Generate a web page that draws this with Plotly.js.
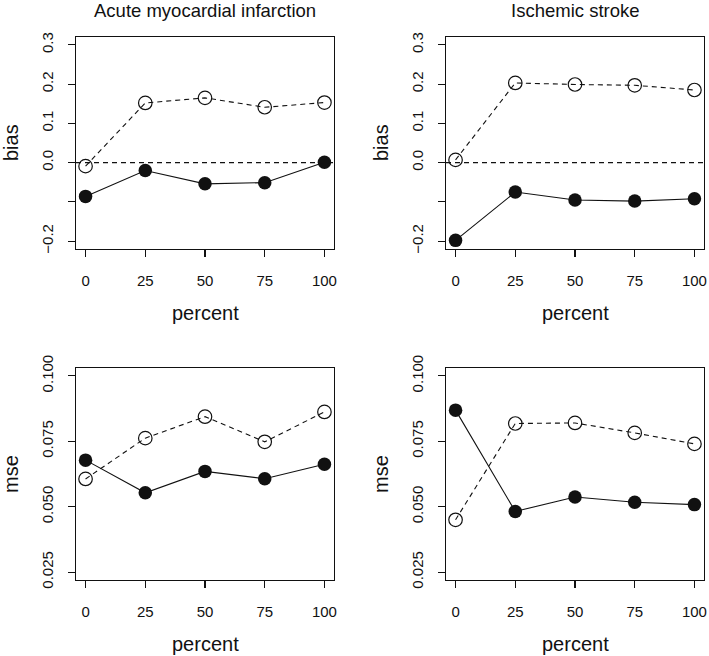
<!DOCTYPE html>
<html>
<head>
<meta charset="utf-8">
<script src="https://cdn.plot.ly/plotly-3.0.1.min.js"></script>
<style>
  html, body { margin: 0; padding: 0; background: #fff; }
  #plot { width: 709px; height: 656px; }
</style>
</head>
<body>
<div id="plot"></div>
<script>
// --- Data ---
const percent = [0, 25, 50, 75, 100];

// Acute myocardial infarction
const amiBiasOpen   = [-0.009, 0.152, 0.165, 0.141, 0.153];
const amiBiasFilled = [-0.086, -0.020, -0.054, -0.051, 0.001];
const amiMseOpen    = [0.0606, 0.0762, 0.0844, 0.0748, 0.0862];
const amiMseFilled  = [0.0678, 0.0553, 0.0635, 0.0607, 0.0662];

// Ischemic stroke
const isBiasOpen    = [0.007, 0.203, 0.199, 0.197, 0.185];
const isBiasFilled  = [-0.198, -0.075, -0.095, -0.098, -0.092];
const isMseOpen     = [0.0450, 0.0818, 0.0820, 0.0782, 0.0740];
const isMseFilled   = [0.0869, 0.0482, 0.0537, 0.0517, 0.0508];

const panelTitles = ['Acute myocardial infarction', 'Ischemic stroke'];
const biasTicks = [-0.2, -0.1, 0, 0.1, 0.2, 0.3];
const biasTickText = ['\u22120.2', '', '0.0', '0.1', '0.2', '0.3'];
const mseTicks = [0.025, 0.05, 0.075, 0.1];
const mseTickText = ['0.025', '0.050', '0.075', '0.100'];

// --- Styling helpers ---
const FONT = 'Liberation Sans, Arial, Helvetica, sans-serif';
const INK = '#111';

function openTrace(y, ax) {
    return {
        x: percent, y: y, xaxis: 'x' + ax, yaxis: 'y' + ax,
        type: 'scatter', mode: 'lines+markers',
        line: { color: INK, width: 1.1, dash: '5px,4px' },
        marker: { symbol: 'circle-open', size: 13.5, color: INK, line: { width: 1.2, color: INK } },
        hoverinfo: 'x+y'
    };
}
function filledTrace(y, ax) {
    return {
        x: percent, y: y, xaxis: 'x' + ax, yaxis: 'y' + ax,
        type: 'scatter', mode: 'lines+markers',
        line: { color: INK, width: 1.1 },
        marker: { symbol: 'circle', size: 13.5, color: INK },
        hoverinfo: 'x+y'
    };
}

const traces = [
    openTrace(amiBiasOpen, ''), filledTrace(amiBiasFilled, ''),
    openTrace(isBiasOpen, '2'), filledTrace(isBiasFilled, '2'),
    openTrace(amiMseOpen, '3'), filledTrace(amiMseFilled, '3'),
    openTrace(isMseOpen, '4'), filledTrace(isMseFilled, '4')
];

// panel boxes in pixels: left col 76-334, right col 446-704; top row 37-249, bottom row 368-580
const W = 709, H = 656;
const colDom = [[76 / W, 334 / W], [446 / W, 704 / W]];
const rowDom = [[(H - 249) / H, (H - 37) / H], [(H - 580) / H, (H - 368) / H]];

function xAxis(col, anchor) {
    return {
        domain: colDom[col], anchor: anchor, range: [-4, 104],
        tickvals: percent, ticktext: percent.map(String),
        ticks: 'outside', ticklen: 7, tickwidth: 1.1, tickcolor: INK,
        ticklabelstandoff: 11,
        showline: true, mirror: true, linecolor: INK, linewidth: 1.2,
        showgrid: false, zeroline: false, fixedrange: true,
        tickfont: { family: FONT, size: 15, color: INK }
    };
}
function yAxis(row, anchor, range, vals, text) {
    return {
        domain: rowDom[row], anchor: anchor, range: range,
        tickvals: vals, ticktext: text, tickangle: -90,
        ticks: 'outside', ticklen: 7, tickwidth: 1.1, tickcolor: INK,
        ticklabelstandoff: 9,
        showline: true, mirror: true, linecolor: INK, linewidth: 1.2,
        showgrid: false, zeroline: false, fixedrange: true,
        tickfont: { family: FONT, size: 15, color: INK }
    };
}

const biasRange = [-0.22, 0.32];
const mseRange = [0.022, 0.103];

const annotations = [];
const axisIds = [['x', 'y'], ['x2', 'y2'], ['x3', 'y3'], ['x4', 'y4']];
axisIds.forEach(([xa, ya], i) => {
    annotations.push({
        text: 'percent', xref: xa + ' domain', yref: ya + ' domain',
        x: 0.5, y: 0, yshift: -64, xanchor: 'center', yanchor: 'middle',
        showarrow: false, font: { family: FONT, size: 20, color: INK }
    });
    annotations.push({
        text: i < 2 ? 'bias' : 'mse', xref: xa + ' domain', yref: ya + ' domain',
        x: 0, y: 0.5, xshift: -65, textangle: -90, xanchor: 'center', yanchor: 'middle',
        showarrow: false, font: { family: FONT, size: 20, color: INK }
    });
});
panelTitles.forEach((t, i) => {
    annotations.push({
        text: t, xref: axisIds[i][0] + ' domain', yref: axisIds[i][1] + ' domain',
        x: 0.5, y: 1, yshift: 26.5, xanchor: 'center', yanchor: 'middle',
        showarrow: false, font: { family: FONT, size: 18.5, color: INK }
    });
});

// abline(h = 0, lty = 2) in the bias panels
const shapes = ['', '2'].map(ax => ({
    type: 'line', xref: 'x' + ax + ' domain', yref: 'y' + ax,
    x0: 0, x1: 1, y0: 0, y1: 0,
    line: { color: INK, width: 1.1, dash: '5px,4px' }
}));

const layout = {
    width: W, height: H,
    margin: { l: 0, r: 0, t: 0, b: 0 },
    paper_bgcolor: '#fff', plot_bgcolor: '#fff',
    showlegend: false,
    font: { family: FONT, color: INK },
    xaxis: xAxis(0, 'y'), yaxis: yAxis(0, 'x', biasRange, biasTicks, biasTickText),
    xaxis2: xAxis(1, 'y2'), yaxis2: yAxis(0, 'x2', biasRange, biasTicks, biasTickText),
    xaxis3: xAxis(0, 'y3'), yaxis3: yAxis(1, 'x3', mseRange, mseTicks, mseTickText),
    xaxis4: xAxis(1, 'y4'), yaxis4: yAxis(1, 'x4', mseRange, mseTicks, mseTickText),
    annotations: annotations,
    shapes: shapes
};

Plotly.newPlot('plot', traces, layout, { displayModeBar: false, staticPlot: true });
</script>
</body>
</html>
